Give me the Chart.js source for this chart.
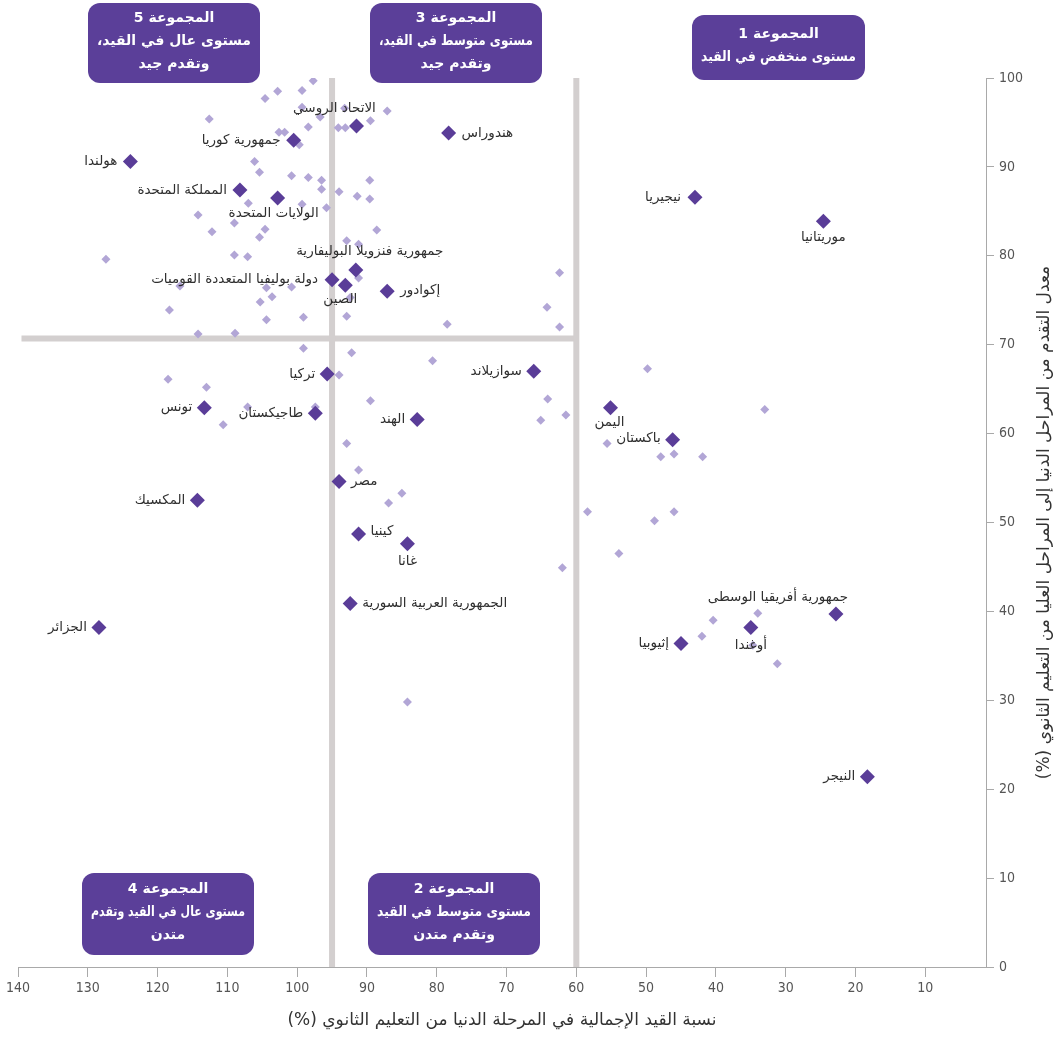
<!DOCTYPE html>
<html><head><meta charset="utf-8">
<script src="https://cdn.jsdelivr.net/npm/chart.js@4/dist/chart.umd.min.js"></script>
<style>html,body{margin:0;padding:0;background:#fff}canvas{display:block}</style>
</head><body>
<canvas id="c" width="1063" height="1037" dir="rtl"></canvas>
<script>
// ---- DATA ----
const xTickValues = [140,130,120,110,100,90,80,70,60,50,40,30,20,10];
const yTickValues = [0,10,20,30,40,50,60,70,80,90,100];

const keyNames = ['هولندا','جمهورية كوريا','الاتحاد الروسي','هندوراس','المملكة المتحدة','الولايات المتحدة',
  'جمهورية فنزويلا البوليفارية','دولة بوليفيا المتعددة القوميات','الصين','إكوادور','نيجيريا','موريتانيا',
  'تركيا','تونس','طاجيكستان','سوازيلاند','الهند','اليمن','باكستان','مصر','المكسيك','كينيا','غانا',
  'الجمهورية العربية السورية','الجزائر','جمهورية أفريقيا الوسطى','أوغندا','إثيوبيا','النيجر'];
const keyEnrolment = [123.9,100.5,91.5,78.3,108.2,102.8,91.6,95.0,93.1,87.1,43.0,24.6,
  95.7,113.3,97.4,66.1,82.8,55.1,46.2,94.0,114.3,91.2,84.2,92.4,128.4,22.8,35.0,45.0,18.3];
const keyProgression = [90.6,93.0,94.6,93.8,87.4,86.5,78.4,77.3,76.7,76.0,86.6,83.9,
  66.7,62.9,62.3,67.0,61.6,62.9,59.3,54.6,52.5,48.7,47.6,40.9,38.2,39.7,38.2,36.4,21.4];

const otherEnrolment = [97.7,99.3,102.8,104.6,99.3,93.2,87.1,112.6,96.7,89.5,98.4,94.1,93.1,102.6,101.8,99.7,
  106.1,105.4,100.8,98.4,96.5,89.6,96.5,94.0,91.4,89.6,107.0,99.3,95.8,114.2,109.0,104.6,112.2,105.4,88.6,
  92.9,91.2,127.4,109.0,107.1,62.4,91.2,116.8,104.4,100.8,103.6,92.4,105.3,118.3,64.2,104.4,99.1,92.9,78.5,
  62.4,114.2,108.9,99.1,92.2,80.6,94.0,118.5,113.0,107.1,97.4,89.5,49.8,64.1,61.5,65.1,33.0,110.6,92.9,55.6,
  47.9,46.0,41.9,91.2,85.0,86.9,58.4,48.8,46.0,53.9,62.0,34.0,40.4,42.0,31.2,34.7,84.2];
const otherProgression = [99.7,98.6,98.5,97.7,96.7,96.6,96.3,95.4,95.6,95.2,94.5,94.4,94.4,93.9,93.9,92.5,
  90.6,89.4,89.0,88.8,88.5,88.5,87.5,87.2,86.7,86.4,85.9,85.8,85.4,84.6,83.7,83.0,82.7,82.1,82.9,
  81.7,81.3,79.6,80.1,79.9,78.1,77.5,76.6,76.4,76.5,75.4,75.3,74.8,73.9,74.2,72.8,73.1,73.2,72.3,
  72.0,71.2,71.3,69.6,69.1,68.2,66.6,66.1,65.2,63.0,63.0,63.7,67.3,63.9,62.1,61.5,62.7,61.0,58.9,58.9,
  57.4,57.7,57.4,55.9,53.3,52.2,51.2,50.2,51.2,46.5,44.9,39.8,39.0,37.2,34.1,36.2,29.8];

const enrolmentCutHigh = 95;
const enrolmentCutLow = 60;
const progressionCut = 70.7;

const groupTexts = [
  ['المجموعة 5','مستوى عال في القيد،','وتقدم جيد'],
  ['المجموعة 3','مستوى متوسط في القيد،','وتقدم جيد'],
  ['المجموعة 1','مستوى منخفض في القيد'],
  ['المجموعة 4','مستوى عال في القيد وتقدم','متدن'],
  ['المجموعة 2','مستوى متوسط في القيد','وتقدم متدن']
];
const xTitle = 'نسبة القيد الإجمالية في المرحلة الدنيا من التعليم الثانوي (%)';
const yTitle = 'معدل التقدم من المراحل الدنيا إلى المراحل العليا من التعليم الثانوي (%)';

// ---- STYLE / PLACEMENT ----
const DARK = '#5a3d98', LIGHT = '#b2a6d6', REF = '#d3cfcf', AXIS = '#a9a9a9';
const ARFONT = '"DejaVu Sans", sans-serif';
const NUMFONT = '"Liberation Sans Narrow", "DejaVu Sans Condensed", sans-serif';
const labelPlacement = [
  ['right',-13,0],['right',-13,0],['center',-22,-18],['left',13,0],['right',-13,0],['center',-4,15],
  ['center',14,-19],['right',-14,0],['center',-5,14],['left',13,-1],['right',-14,0],['center',0,16],
  ['right',-12,0],['right',-12,0],['right',-12,0],['right',-12,0],['right',-12,0],['center',-1,15],
  ['right',-12,-1],['left',12,0],['right',-12,0],['left',12,-3],['center',0,18],['left',12,0],
  ['right',-12,0],['center',-58,-17],['center',0,18],['right',-12,0],['right',-12,0]
];
const groupBoxes = [
  {x:88,y:3,w:172,h:80},{x:370,y:3,w:172,h:80},{x:692,y:15,w:173,h:65},
  {x:82,y:873,w:172,h:82},{x:368,y:873,w:172,h:82}
];

const toPts = (xs, ys) => xs.map((x,i)=>({x:x, y:ys[i]}));

const labelsPlugin = {
  id:'labels',
  afterDatasetsDraw(chart){
    const ctx = chart.ctx;
    const meta = chart.getDatasetMeta(0);
    ctx.save();
    ctx.font = '13.5px ' + ARFONT;
    ctx.fillStyle = '#2f2f2f';
    ctx.textBaseline = 'middle';
    ctx.direction = 'rtl';
    meta.data.forEach((el,i)=>{
      const p = labelPlacement[i];
      ctx.textAlign = p[0];
      ctx.fillText(keyNames[i], el.x + p[1], el.y + p[2]);
    });
    ctx.restore();
  },
  afterDraw(chart){
    const ctx = chart.ctx;
    ctx.save();
    ctx.direction = 'rtl';
    groupBoxes.forEach((b,i)=>{
      ctx.fillStyle = '#5b3f99';
      ctx.beginPath();
      ctx.roundRect(b.x, b.y, b.w, b.h, 12);
      ctx.fill();
      const lines = groupTexts[i];
      const sp = 23;
      const cy = b.y + b.h/2 - 2;
      ctx.fillStyle = '#fff';
      ctx.textAlign = 'center';
      ctx.textBaseline = 'middle';
      ctx.font = 'bold 14px ' + ARFONT;
      lines.forEach((t,j)=>{
        ctx.fillText(t, b.x + b.w/2, cy + (j - (lines.length-1)/2)*sp, b.w - 18);
      });
    });
    const ca = chart.chartArea;
    ctx.translate(1045, (ca.top + ca.bottom)/2);
    ctx.rotate(-Math.PI/2);
    ctx.font = '17px ' + ARFONT;
    ctx.fillStyle = '#333';
    ctx.textAlign = 'center';
    ctx.textBaseline = 'middle';
    ctx.fillText(yTitle, 0, 0);
    ctx.restore();
  }
};

new Chart(document.getElementById('c'), {
  type:'scatter',
  data:{ datasets:[
    {label:'key', data: toPts(keyEnrolment, keyProgression), pointStyle:'rectRot', pointRadius:7.5,
      backgroundColor:DARK, borderWidth:0, pointHoverRadius:7.5, order:1},
    {label:'other', data: toPts(otherEnrolment, otherProgression), pointStyle:'rectRot', pointRadius:4.5,
      backgroundColor:LIGHT, borderWidth:0, pointHoverRadius:4.5, order:2},
    {label:'cutHigh', data:[{x:enrolmentCutHigh,y:0},{x:enrolmentCutHigh,y:100}], showLine:true,
      borderColor:REF, borderWidth:6, pointRadius:0, order:3},
    {label:'cutLow', data:[{x:enrolmentCutLow,y:0},{x:enrolmentCutLow,y:100}], showLine:true,
      borderColor:REF, borderWidth:6, pointRadius:0, order:3},
    {label:'cutY', data:[{x:139.5,y:progressionCut},{x:enrolmentCutLow,y:progressionCut}], showLine:true,
      borderColor:REF, borderWidth:6, pointRadius:0, order:3}
  ]},
  options:{
    responsive:false, animation:false,
    layout:{padding:{left:18, top:78, right:0, bottom:0}},
    plugins:{legend:{display:false}, tooltip:{enabled:false}},
    scales:{
      x:{type:'linear', reverse:true, min:1.3, max:140,
        afterBuildTicks(s){ s.ticks = xTickValues.map(v=>({value:v})); },
        afterFit(s){ s.height = 70; },
        grid:{display:true, drawOnChartArea:false, drawTicks:true, tickLength:10, color:AXIS},
        border:{display:true, color:AXIS, width:1},
        ticks:{color:'#555', font:{family:NUMFONT, size:14}, padding:3, maxRotation:0, autoSkip:false},
        title:{display:true, text:xTitle, color:'#333', font:{family:ARFONT, size:17}, padding:{top:0,bottom:6}}
      },
      y:{type:'linear', position:'right', min:0, max:100,
        afterBuildTicks(s){ s.ticks = yTickValues.map(v=>({value:v})); },
        afterFit(s){ s.width = 77; },
        grid:{display:true, drawOnChartArea:false, drawTicks:true, tickLength:8, color:AXIS},
        border:{display:true, color:AXIS, width:1},
        ticks:{color:'#555', font:{family:NUMFONT, size:14}, padding:5, autoSkip:false},
        title:{display:false}
      }
    }
  },
  plugins:[labelsPlugin]
});
</script>
</body></html>
